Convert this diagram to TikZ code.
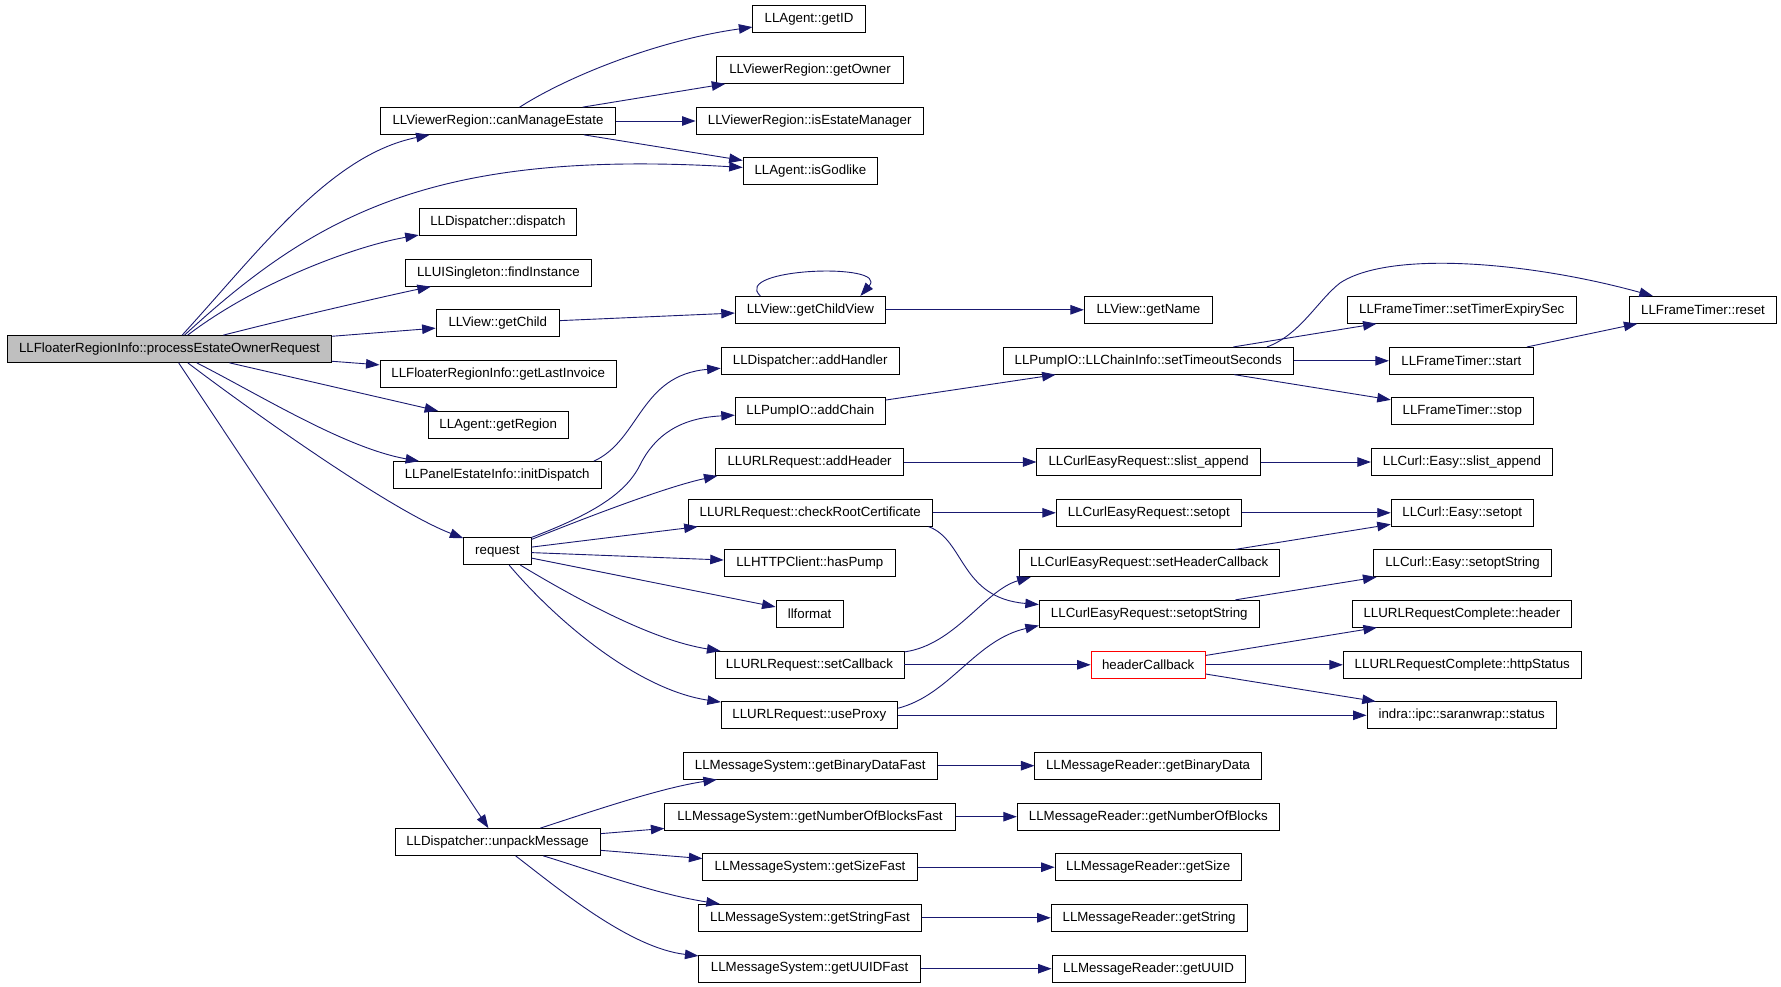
\documentclass[tikz,border=0pt]{standalone}
\usepackage{fontspec}
\setmainfont{Liberation Sans}
\usetikzlibrary{arrows.meta}
\definecolor{edgeblue}{HTML}{191970}
\definecolor{mainfill}{HTML}{BFBFBF}
\begin{document}
\begin{tikzpicture}[x=1pt,y=-1pt,
  fn/.style={draw=black, line width=0.9pt, minimum height=26.8pt, inner sep=0pt,
             font=\fontsize{13.3}{15}\selectfont, text=black, fill=white},
  call/.style={draw=edgeblue, line width=0.9pt, -{Triangle[length=13.5pt,width=9.5pt]}}]
\useasboundingbox (0,0) rectangle (1781,987);
\fill[white] (0,0) rectangle (1781,987);

% column 1
\node[fn, minimum width=324.4pt, fill=mainfill] (main) at (169.5,349) {LLFloaterRegionInfo::processEstateOwnerRequest};
% column 2
\node[fn, minimum width=235.6pt] (cme) at (498,121) {LLViewerRegion::canManageEstate};
\node[fn, minimum width=157.5pt] (dispatch) at (497.9,221.8) {LLDispatcher::dispatch};
\node[fn, minimum width=186.2pt] (findInst) at (498.4,272.8) {LLUISingleton::findInstance};
\node[fn, minimum width=123.4pt] (getChild) at (497.8,323.3) {LLView::getChild};
\node[fn, minimum width=236.4pt] (gli) at (498.2,373.8) {LLFloaterRegionInfo::getLastInvoice};
\node[fn, minimum width=140pt] (getRegion) at (498.2,424.8) {LLAgent::getRegion};
\node[fn, minimum width=208.4pt] (initd) at (497.2,475) {LLPanelEstateInfo::initDispatch};
\node[fn, minimum width=67.2pt] (req) at (497.4,551.3) {request};
\node[fn, minimum width=205.2pt] (unpack) at (497.6,842) {LLDispatcher::unpackMessage};
% column 3
\node[fn, minimum width=112.3pt] (getID) at (809,19.2) {LLAgent::getID};
\node[fn, minimum width=186.3pt] (getOwner) at (810,70) {LLViewerRegion::getOwner};
\node[fn, minimum width=227.4pt] (isEM) at (809.7,121) {LLViewerRegion::isEstateManager};
\node[fn, minimum width=134.5pt] (isGod) at (810.4,171.3) {LLAgent::isGodlike};
\node[fn, minimum width=150.3pt] (gcv) at (810.4,309.8) {LLView::getChildView};
\node[fn, minimum width=178.3pt] (addHandler) at (810.2,360.8) {LLDispatcher::addHandler};
\node[fn, minimum width=150.3pt] (addChain) at (810.4,411.3) {LLPumpIO::addChain};
\node[fn, minimum width=187.4pt] (addHeader) at (809.6,462) {LLURLRequest::addHeader};
\node[fn, minimum width=243.9pt] (crc) at (810.2,512.8) {LLURLRequest::checkRootCertificate};
\node[fn, minimum width=171.2pt] (hasPump) at (809.8,563.3) {LLHTTPClient::hasPump};
\node[fn, minimum width=67.2pt] (llformat) at (809.6,613.7) {llformat};
\node[fn, minimum width=189pt] (setCallback) at (809.5,664.8) {LLURLRequest::setCallback};
\node[fn, minimum width=175.9pt] (useProxy) at (809.3,715.3) {LLURLRequest::useProxy};
\node[fn, minimum width=254.3pt] (gbdf) at (810.2,765.7) {LLMessageSystem::getBinaryDataFast};
\node[fn, minimum width=290.3pt] (gnobf) at (810,816.7) {LLMessageSystem::getNumberOfBlocksFast};
\node[fn, minimum width=214.3pt] (gsf) at (810,867.2) {LLMessageSystem::getSizeFast};
\node[fn, minimum width=222.2pt] (gstrf) at (810,917.8) {LLMessageSystem::getStringFast};
\node[fn, minimum width=221.4pt] (guf) at (809.6,968.7) {LLMessageSystem::getUUIDFast};
% column 4
\node[fn, minimum width=128.1pt] (getName) at (1148.4,309.8) {LLView::getName};
\node[fn, minimum width=290.5pt] (stm) at (1148.2,360.8) {LLPumpIO::LLChainInfo::setTimeoutSeconds};
\node[fn, minimum width=223.6pt] (cesl) at (1148.7,462) {LLCurlEasyRequest::slist\_append};
\node[fn, minimum width=185pt] (ceso) at (1148.8,512.8) {LLCurlEasyRequest::setopt};
\node[fn, minimum width=260.2pt] (she) at (1149.2,563.3) {LLCurlEasyRequest::setHeaderCallback};
\node[fn, minimum width=220pt] (sos) at (1149.3,613.7) {LLCurlEasyRequest::setoptString};
\node[fn, minimum width=114.2pt, draw=red] (hcb) at (1148.2,664.8) {headerCallback};
\node[fn, minimum width=226.4pt] (gbd) at (1148.1,765.7) {LLMessageReader::getBinaryData};
\node[fn, minimum width=262.1pt] (gnob) at (1148.3,816.7) {LLMessageReader::getNumberOfBlocks};
\node[fn, minimum width=186.2pt] (gs) at (1148.2,867.2) {LLMessageReader::getSize};
\node[fn, minimum width=195.9pt] (gstr) at (1149.1,917.8) {LLMessageReader::getString};
\node[fn, minimum width=193.2pt] (gu) at (1148.6,968.7) {LLMessageReader::getUUID};
% column 5
\node[fn, minimum width=229.2pt] (ste) at (1461.7,309.8) {LLFrameTimer::setTimerExpirySec};
\node[fn, minimum width=144.1pt] (start) at (1461.4,360.8) {LLFrameTimer::start};
\node[fn, minimum width=142.2pt] (stop) at (1462.3,411.3) {LLFrameTimer::stop};
\node[fn, minimum width=181.3pt] (easl) at (1462,462) {LLCurl::Easy::slist\_append};
\node[fn, minimum width=142.2pt] (eso) at (1462.3,512.8) {LLCurl::Easy::setopt};
\node[fn, minimum width=177.8pt] (esos) at (1462.5,563.3) {LLCurl::Easy::setoptString};
\node[fn, minimum width=218.8pt] (urch) at (1461.9,613.7) {LLURLRequestComplete::header};
\node[fn, minimum width=238pt] (urcs) at (1462.3,664.8) {LLURLRequestComplete::httpStatus};
\node[fn, minimum width=189.4pt] (status) at (1461.7,715.3) {indra::ipc::saranwrap::status};
% column 6
\node[fn, minimum width=147.4pt] (reset) at (1703,309.8) {LLFrameTimer::reset};

% edges from main
\draw[call] (main) .. controls (260,250) and (330,155) .. (cme);
\draw[call] (main) .. controls (320,210) and (440,150) .. (isGod);
\draw[call] (main) .. controls (260,280) and (360,245) .. (dispatch);
\draw[call] (main) .. controls (290,318) and (395,294) .. (findInst);
\draw[call] (main) -- (getChild);
\draw[call] (main) -- (gli);
\draw[call] (main) -- (getRegion);
\draw[call] (main) .. controls (260,395) and (345,448) .. (initd);
\draw[call] (main) .. controls (250,410) and (390,510) .. (req);
\draw[call] (main) -- (unpack);

% canManageEstate
\draw[call] (cme) .. controls (570,75) and (660,40) .. (getID);
\draw[call] (cme) -- (getOwner);
\draw[call] (cme) -- (isEM);
\draw[call] (cme) -- (isGod);

% getChild
\draw[call] (getChild) -- (gcv);
\draw[call] ([xshift=-50pt]gcv.north) .. controls (730,268) and (890,262) .. ([xshift=50pt]gcv.north);
\draw[call] (gcv) -- (getName);

% initDispatch
\draw[call] ([xshift=-8pt]initd.north east) .. controls (640,440) and (640,375) .. (addHandler);

% request
\draw[call] (req.north east) .. controls (590,515) and (625,495) .. (640,465) .. controls (655,435) and (680,418) .. (addChain);
\draw[call] ([yshift=-2pt]req.north east) .. controls (600,512) and (670,486) .. ([xshift=2pt]addHeader.south west);
\draw[call] (req) -- (crc);
\draw[call] (req) -- (hasPump);
\draw[call] (req) -- (llformat);
\draw[call] (req) .. controls (570,595) and (650,640) .. (setCallback);
\draw[call] (req) .. controls (560,625) and (640,690) .. (useProxy);

% pump / timers
\draw[call] (addChain) -- (stm);
\draw[call] (stm) -- (ste);
\draw[call] ([xshift=-27pt]stm.north east) .. controls (1300,335) and (1318,300) .. (1340,283) .. controls (1390,250) and (1530,262) .. (reset);
\draw[call] (stm) -- (start);
\draw[call] (stm) -- (stop);
\draw[call] (start) -- (reset);

% curl
\draw[call] (addHeader) -- (cesl);
\draw[call] (cesl) -- (easl);
\draw[call] (crc) -- (ceso);
\draw[call] (ceso) -- (eso);
\draw[call] ([xshift=-4pt]crc.south east) .. controls (965,540) and (960,598) .. (sos);
\draw[call] (she) -- (eso);
\draw[call] (sos) -- (esos);
\draw[call] (setCallback) .. controls (955,645) and (985,590) .. ([xshift=12pt]she.south west);
\draw[call] (setCallback) -- (hcb);
\draw[call] ([yshift=7pt]useProxy.east) .. controls (950,695) and (975,640) .. ([yshift=2pt]sos.south west);
\draw[call] (useProxy) -- (status);
\draw[call] (hcb) -- (urch);
\draw[call] (hcb) -- (urcs);
\draw[call] (hcb) -- (status);

% unpackMessage
\draw[call] (unpack) .. controls (590,812) and (660,788) .. (gbdf);
\draw[call] (unpack) -- (gnobf);
\draw[call] (unpack) -- (gsf);
\draw[call] (unpack) .. controls (590,870) and (655,894) .. (gstrf);
\draw[call] (unpack) .. controls (560,890) and (630,948) .. (guf);
\draw[call] (gbdf) -- (gbd);
\draw[call] (gnobf) -- (gnob);
\draw[call] (gsf) -- (gs);
\draw[call] (gstrf) -- (gstr);
\draw[call] (guf) -- (gu);
\end{tikzpicture}
\end{document}
